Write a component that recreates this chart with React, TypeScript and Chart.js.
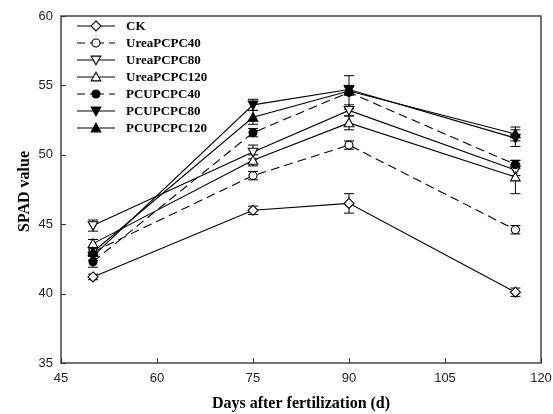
import React, { useEffect, useRef } from 'react';
import { Chart, registerables } from 'chart.js';
Chart.register(...registerables);

// ---- data ----
const days = [50, 75, 90, 116];
const seriesNames = ['CK', 'UreaPCPC40', 'UreaPCPC80', 'UreaPCPC120', 'PCUPCPC40', 'PCUPCPC80', 'PCUPCPC120'];
const ckValues = [41.2, 46.0, 46.5, 40.1];
const ckErrors = [0.2, 0.3, 0.7, 0.3];
const urea40Values = [43.0, 48.5, 50.7, 44.6];
const urea40Errors = [0.2, 0.3, 0.3, 0.3];
const urea80Values = [44.9, 50.2, 53.2, 48.9];
const urea80Errors = [0.4, 0.5, 0.4, 0.4];
const urea120Values = [43.6, 49.6, 52.3, 48.4];
const urea120Errors = [0.3, 0.4, 0.5, 1.2];
const pcu40Values = [42.3, 51.6, 54.5, 49.3];
const pcu40Errors = [0.4, 0.3, 1.2, 0.3];
const pcu80Values = [42.7, 53.6, 54.7, 51.2];
const pcu80Errors = [0.3, 0.4, 0.3, 0.6];
const pcu120Values = [43.0, 52.7, 54.6, 51.5];
const pcu120Errors = [0.3, 0.5, 0.3, 0.5];
const xTicks = [45, 60, 75, 90, 105, 120];
const yTicks = [35, 40, 45, 50, 55, 60];
const xTitle = 'Days after fertilization (d)';
const yTitle = 'SPAD value';

const allValues = [ckValues, urea40Values, urea80Values, urea120Values, pcu40Values, pcu80Values, pcu120Values];
const allErrors = [ckErrors, urea40Errors, urea80Errors, urea120Errors, pcu40Errors, pcu80Errors, pcu120Errors];

// ---- styles ----
type Marker = { shape: 'diamond' | 'circle' | 'tri'; rot: number; filled: boolean; dashed: boolean };
const markers: Marker[] = [
  { shape: 'diamond', rot: 0, filled: false, dashed: false },
  { shape: 'circle', rot: 0, filled: false, dashed: true },
  { shape: 'tri', rot: 180, filled: false, dashed: false },
  { shape: 'tri', rot: 0, filled: false, dashed: false },
  { shape: 'circle', rot: 0, filled: true, dashed: true },
  { shape: 'tri', rot: 180, filled: true, dashed: false },
  { shape: 'tri', rot: 0, filled: true, dashed: false },
];
const DASH = [9, 5];
const R = 4;

function drawMarker(ctx: CanvasRenderingContext2D, m: Marker, x: number, y: number, r: number) {
  ctx.save();
  ctx.setLineDash([]);
  ctx.lineWidth = 1.1;
  ctx.strokeStyle = '#000';
  ctx.fillStyle = m.filled ? '#000' : '#fff';
  ctx.beginPath();
  if (m.shape === 'circle') {
    ctx.arc(x, y, r, 0, Math.PI * 2);
  } else if (m.shape === 'diamond') {
    const d = r * 1.25;
    ctx.moveTo(x, y - d);
    ctx.lineTo(x + d, y);
    ctx.lineTo(x, y + d);
    ctx.lineTo(x - d, y);
    ctx.closePath();
  } else {
    const s = m.rot === 180 ? -1 : 1;
    const h = r * 1.2;
    ctx.moveTo(x, y - s * h);
    ctx.lineTo(x + h * 1.0, y + s * h * 0.8);
    ctx.lineTo(x - h * 1.0, y + s * h * 0.8);
    ctx.closePath();
  }
  ctx.fill();
  ctx.stroke();
  ctx.restore();
}

const LEFT = 61, RIGHT = 541, TOP = 16, BOTTOM = 363, W = 553, H = 414;

const decorPlugin = {
  id: 'decor',
  beforeDatasetsDraw(chart: any) {
    const ctx: CanvasRenderingContext2D = chart.ctx;
    const xs = chart.scales.x, ys = chart.scales.y;
    ctx.save();
    ctx.strokeStyle = '#000';
    ctx.lineWidth = 1;
    ctx.setLineDash([]);
    allValues.forEach((vals, si) => {
      vals.forEach((v, i) => {
        const e = allErrors[si][i];
        const px = xs.getPixelForValue(days[i]);
        const y1 = ys.getPixelForValue(v + e);
        const y2 = ys.getPixelForValue(v - e);
        ctx.beginPath();
        ctx.moveTo(px, y1); ctx.lineTo(px, y2);
        ctx.moveTo(px - 5, y1); ctx.lineTo(px + 5, y1);
        ctx.moveTo(px - 5, y2); ctx.lineTo(px + 5, y2);
        ctx.stroke();
      });
    });
    ctx.restore();
  },
  afterDatasetsDraw(chart: any) {
    const ctx: CanvasRenderingContext2D = chart.ctx;
    const xs = chart.scales.x, ys = chart.scales.y;
    // markers
    allValues.forEach((vals, si) => {
      vals.forEach((v, i) => {
        drawMarker(ctx, markers[si], xs.getPixelForValue(days[i]), ys.getPixelForValue(v), R);
      });
    });
    const a = chart.chartArea;
    ctx.save();
    // frame
    ctx.strokeStyle = '#444';
    ctx.lineWidth = 1.5;
    ctx.setLineDash([]);
    ctx.strokeRect(a.left, a.top, a.right - a.left, a.bottom - a.top);
    // ticks inward
    ctx.lineWidth = 1;
    ctx.strokeStyle = '#333';
    ctx.beginPath();
    xTicks.forEach((t) => {
      const px = Math.round(xs.getPixelForValue(t)) + 0.5;
      ctx.moveTo(px, a.bottom); ctx.lineTo(px, a.bottom - 5);
    });
    yTicks.forEach((t) => {
      const py = Math.round(ys.getPixelForValue(t)) + 0.5;
      ctx.moveTo(a.left, py); ctx.lineTo(a.left + 5, py);
    });
    ctx.stroke();
    // tick labels
    ctx.fillStyle = '#222';
    ctx.font = '13px "Liberation Sans", Arial, sans-serif';
    ctx.textAlign = 'center';
    ctx.textBaseline = 'middle';
    xTicks.forEach((t) => ctx.fillText(String(t), xs.getPixelForValue(t), a.bottom + 15));
    ctx.textAlign = 'right';
    yTicks.forEach((t) => ctx.fillText(String(t), a.left - 8, ys.getPixelForValue(t)));
    // titles
    ctx.fillStyle = '#000';
    ctx.font = 'bold 16px "Liberation Serif", "Times New Roman", serif';
    ctx.textAlign = 'center';
    ctx.fillText(xTitle, (a.left + a.right) / 2, 404);
    ctx.save();
    ctx.translate(25, (a.top + a.bottom) / 2 + 2);
    ctx.rotate(-Math.PI / 2);
    ctx.fillText(yTitle, 0, 0);
    ctx.restore();
    // legend
    ctx.font = 'bold 13px "Liberation Serif", "Times New Roman", serif';
    ctx.textAlign = 'left';
    seriesNames.forEach((name, i) => {
      const y = 26 + i * 17;
      const m = markers[i];
      ctx.strokeStyle = '#000';
      ctx.lineWidth = 1.1;
      ctx.beginPath();
      if (m.dashed) {
        ctx.moveTo(77, y); ctx.lineTo(85, y);
        ctx.moveTo(90, y); ctx.lineTo(104, y);
        ctx.moveTo(109, y); ctx.lineTo(115, y);
      } else {
        ctx.moveTo(77, y); ctx.lineTo(115, y);
      }
      ctx.stroke();
      drawMarker(ctx, m, 96, y, R);
      ctx.fillStyle = '#000';
      ctx.fillText(name, 126, y + 1);
    });
    ctx.restore();
  },
};

export default function App() {
  const ref = useRef<HTMLCanvasElement>(null);
  useEffect(() => {
    document.body.style.margin = '0';
    const canvas = ref.current!;
    const chart = new Chart(canvas, {
      type: 'line',
      data: {
        datasets: seriesNames.map((name, si) => ({
          label: name,
          data: days.map((d, i) => ({ x: d, y: allValues[si][i] })),
          borderColor: '#000',
          borderWidth: 1.1,
          borderDash: markers[si].dashed ? DASH : [],
          pointRadius: 0,
          fill: false,
          tension: 0,
        })),
      },
      options: {
        responsive: false,
        animation: false,
        layout: { padding: { top: TOP, right: W - RIGHT, left: 0, bottom: 0 } },
        plugins: { legend: { display: false }, tooltip: { enabled: false } },
        scales: {
          x: {
            type: 'linear', min: 45, max: 120,
            grid: { display: false }, border: { display: false },
            ticks: { display: false, stepSize: 15 },
            afterFit: (s: any) => { s.height = H - BOTTOM; },
          },
          y: {
            type: 'linear', min: 35, max: 60,
            grid: { display: false }, border: { display: false },
            ticks: { display: false, stepSize: 5 },
            afterFit: (s: any) => { s.width = LEFT; },
          },
        },
      },
      plugins: [decorPlugin],
    } as any);
    return () => chart.destroy();
  }, []);
  return (
    <div style={{ width: W, height: H, background: '#fff' }}>
      <canvas ref={ref} width={W} height={H} style={{ display: 'block' }} />
    </div>
  );
}
